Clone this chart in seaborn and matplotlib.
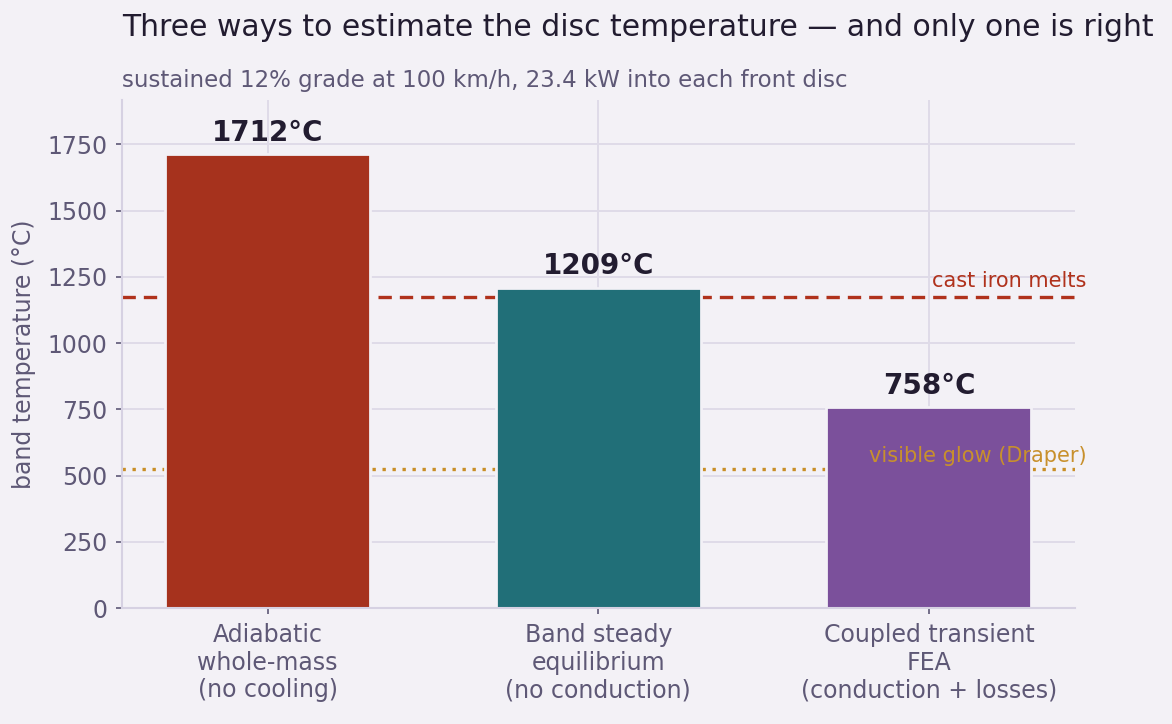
import matplotlib
matplotlib.use("Agg")
import matplotlib.pyplot as plt
import seaborn as sns
import pandas as pd

# ---------------------------------------------------------------------------
# data
# ---------------------------------------------------------------------------
methods = [
    "Adiabatic\nwhole-mass\n(no cooling)",
    "Band steady\nequilibrium\n(no conduction)",
    "Coupled transient\nFEA\n(conduction + losses)",
]
temps_c = [1712, 1209, 758]
bar_colors = ["#A6321D", "#216F78", "#7B509B"]

melt_temp = 1175
melt_label = "cast iron melts"
glow_temp = 525
glow_label = "visible glow (Draper)"

title = "Three ways to estimate the disc temperature \u2014 and only one is right"
subtitle = "sustained 12% grade at 100 km/h, 23.4 kW into each front disc"

BG = "#F3F1F6"
GRID = "#DFDBE8"
INK = "#221C30"
MUTED = "#5E5876"


def main():
    df = pd.DataFrame({"method": methods, "temp": temps_c})

    sns.set_theme(style="whitegrid")
    plt.rcParams["font.family"] = ["DejaVu Sans"]

    fig, ax = plt.subplots(figsize=(11.72, 7.24), dpi=100)
    fig.patch.set_facecolor(BG)
    ax.set_facecolor(BG)

    sns.barplot(
        data=df, x="method", y="temp", hue="method", palette=bar_colors,
        legend=False, width=0.62, saturation=1, edgecolor=BG, linewidth=2,
        ax=ax, zorder=2,
    )

    # reference lines
    ax.axhline(melt_temp, color="#B0321C", lw=2.4, ls=(0, (4, 2.4)), zorder=1)
    ax.axhline(glow_temp, color="#C98E26", lw=2.4, ls=(0, (1, 2.0)), zorder=1)
    ax.text(1.0126, melt_temp + 22, melt_label, transform=ax.get_yaxis_transform(),
            ha="right", va="bottom", color="#B0321C", fontsize=15, zorder=4)
    ax.text(1.0126, glow_temp + 12, glow_label, transform=ax.get_yaxis_transform(),
            ha="right", va="bottom", color="#C8902C", fontsize=15, zorder=4)

    # value labels
    for i, t in enumerate(temps_c):
        ax.text(i, t + 28, f"{t}\u00b0C", ha="center", va="bottom",
                fontsize=20, fontweight="bold", color=INK, zorder=4)

    ax.set_xlim(-0.441, 2.441)
    ax.set_ylim(0, max(temps_c) * 1.12)
    ax.set_yticks([0, 250, 500, 750, 1000, 1250, 1500, 1750])

    ax.grid(True, color=GRID, lw=1.4)
    ax.set_axisbelow(True)
    sns.despine(ax=ax)
    for s in ("left", "bottom"):
        ax.spines[s].set_color("#D6D1E2")
        ax.spines[s].set_linewidth(1.5)

    ax.tick_params(axis="both", colors=MUTED, labelsize=17, length=4.5,
                   width=1.2, left=True, bottom=True, pad=6)
    ax.set_xlabel("")
    ax.set_ylabel("band temperature (\u00b0C)", color=MUTED, fontsize=17,
                  labelpad=8)

    fig.subplots_adjust(left=0.104, right=0.917, top=0.862, bottom=0.16)
    fig.text(0.104, 0.962, title, ha="left", va="center", fontsize=21.5, color=INK)
    fig.text(0.104, 0.889, subtitle, ha="left", va="center", fontsize=16.5, color=MUTED)

    fig.savefig("out.png", dpi=100, facecolor=BG)


if __name__ == "__main__":
    main()
